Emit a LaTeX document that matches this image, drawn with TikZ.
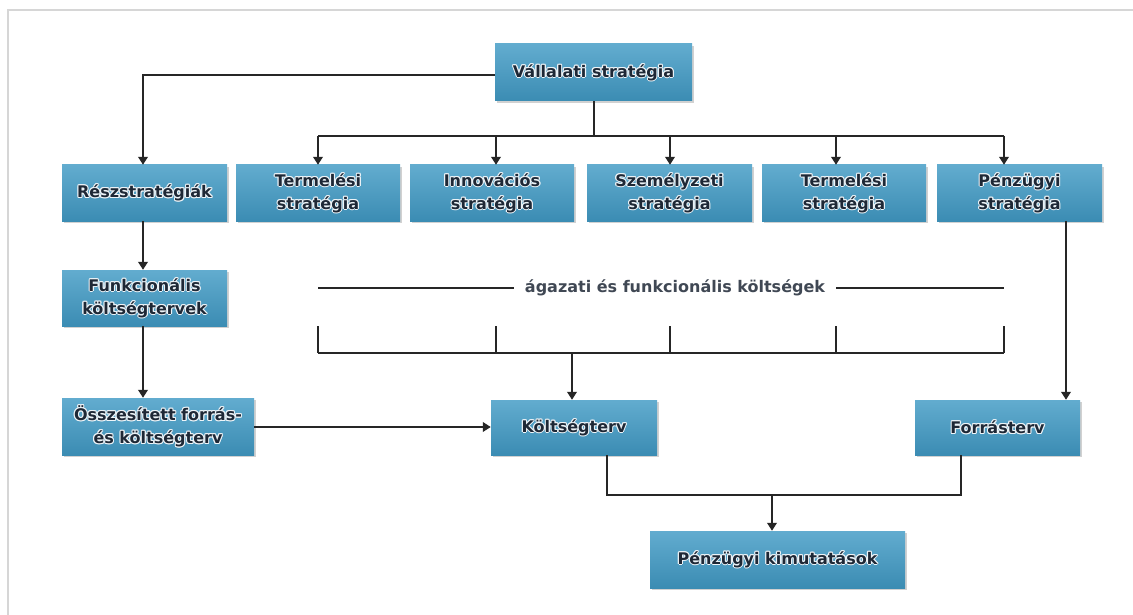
\documentclass[tikz,border=0pt]{standalone}
\usepackage{fontspec}
\setmainfont{DejaVu Sans}
\usetikzlibrary{arrows.meta,shadows,calc}
\definecolor{boxtop}{HTML}{62ACCF}
\definecolor{boxbot}{HTML}{3B8CB3}
\definecolor{ink}{HTML}{1E2836}
\definecolor{halo}{HTML}{EEF4F8}
\definecolor{wire}{HTML}{262626}
\definecolor{frame}{HTML}{D6D6D6}
% light halo behind box labels: shifted copies under the dark text
\newcommand\gcopy[3]{\makebox[0pt][l]{\hspace*{#1}\raisebox{#2}{\textcolor{halo}{#3}}}}
\newcommand\glow[1]{%
  \gcopy{1.1pt}{0pt}{#1}\gcopy{-1.1pt}{0pt}{#1}%
  \gcopy{0pt}{1.1pt}{#1}\gcopy{0pt}{-1.1pt}{#1}%
  \gcopy{.8pt}{.8pt}{#1}\gcopy{-.8pt}{.8pt}{#1}%
  \gcopy{.8pt}{-.8pt}{#1}\gcopy{-.8pt}{-.8pt}{#1}%
  #1}
\tikzset{
  card/.style={rectangle, top color=boxtop, bottom color=boxbot, draw=none,
    text=ink, font=\bfseries\fontsize{16}{23}\selectfont, align=center,
    inner sep=0pt, drop shadow={shadow xshift=1.5pt, shadow yshift=-2pt, fill=black, opacity=0.18}},
  wirestyle/.style={draw=wire, line width=2pt},
  arr/.style={draw=wire, line width=2pt, -{Triangle[width=9.5pt,length=8pt]}},
}
\begin{document}
\begin{tikzpicture}[x=1pt,y=-1pt]
\useasboundingbox (0,0) rectangle (1133,615);
\fill[white] (0,0) rectangle (1133,615);
% thin grey frame
\draw[frame, line width=1.5pt] (8,615) -- (8,10) -- (1133,10);

% boxes
\node[card, minimum width=197pt, minimum height=57pt] (vs) at (593.5,72.5) {\glow{Vállalati stratégia}};
\node[card, minimum width=165pt, minimum height=56pt] (resz) at (144.5,193) {\glow{Részstratégiák}};
\node[card, minimum width=164pt, minimum height=56pt] (t1) at (318,193) {\glow{Termelési}\\\glow{stratégia}};
\node[card, minimum width=164pt, minimum height=56pt] (t2) at (492,193) {\glow{Innovációs}\\\glow{stratégia}};
\node[card, minimum width=165pt, minimum height=56pt] (t3) at (669.5,193) {\glow{Személyzeti}\\\glow{stratégia}};
\node[card, minimum width=164pt, minimum height=56pt] (t4) at (844,193) {\glow{Termelési}\\\glow{stratégia}};
\node[card, minimum width=165pt, minimum height=56pt] (pen) at (1019.5,193) {\glow{Pénzügyi}\\\glow{stratégia}};
\node[card, minimum width=165pt, minimum height=56pt] (funk) at (144.5,298) {\glow{Funkcionális}\\\glow{költségtervek}};
\node[card, minimum width=192pt, minimum height=57pt] (ossz) at (158,426.5) {\glow{Összesített forrás-}\\\glow{és költségterv}};
\node[card, minimum width=166pt, minimum height=55pt] (kolt) at (574,427.5) {\glow{Költségterv}};
\node[card, minimum width=165pt, minimum height=55pt] (forr) at (997.5,427.5) {\glow{Forrásterv}};
\node[card, minimum width=255pt, minimum height=57pt] (pk) at (777.5,559.5) {\glow{Pénzügyi kimutatások}};

% routing points of the connectors
\coordinate (bus) at (594,136);
\coordinate (k1) at (318,136);
\coordinate (k2) at (496,136);
\coordinate (k3) at (670,136);
\coordinate (k4) at (836,136);
\coordinate (k5) at (1004,136);
\coordinate (br) at (572,353);
\coordinate (pcol) at (1066,300);
\coordinate (join) at (772,495);
\coordinate (kx) at (607,495);
\coordinate (fx) at (961,495);
\coordinate (lcol) at (143,300);
\coordinate (toprow) at (0,75);
\coordinate (midrow) at (0,427);

% strategy bus
\draw[wirestyle] (bus |- vs.south) -- (bus);
\draw[wirestyle] (k1) -- (k5);
\foreach \k/\b in {k1/t1,k2/t2,k3/t3,k4/t4,k5/pen}
  \draw[arr] (\k) -- (\k |- \b.north);

% sector and functional costs
\node[font=\bfseries\fontsize{16}{19}\selectfont, text=ink!85, fill=white, inner xsep=11pt, inner ysep=3pt] (agaz) at (675,288) {ágazati és funkcionális költségek};
\draw[wirestyle] (k1 |- agaz) -- (agaz.west);
\draw[wirestyle] (agaz.east) -- (k5 |- agaz);

% bracket collecting the costs
\draw[wirestyle] (k1 |- br) -- (k5 |- br);
\foreach \k in {k1,k2,k3,k4,k5}
  \draw[wirestyle] (\k |- funk.south) -- (\k |- br);
\draw[arr] (br) -- (br |- kolt.north);

% financing plan
\draw[arr] (pcol |- pen.south) -- (pcol |- forr.north);

% merge into the financial statements
\draw[wirestyle] (kx |- kolt.south) -- (kx) -- (fx) -- (fx |- forr.south);
\draw[arr] (join) -- (join |- pk.north);

% left branch
\draw[arr] (vs.west |- toprow) -| (lcol |- resz.north);
\draw[arr] (lcol |- resz.south) -- (lcol |- funk.north);
\draw[arr] (lcol |- funk.south) -- (lcol |- ossz.north);
\draw[arr] (ossz.east |- midrow) -- (kolt.west |- midrow);
\end{tikzpicture}
\end{document}
